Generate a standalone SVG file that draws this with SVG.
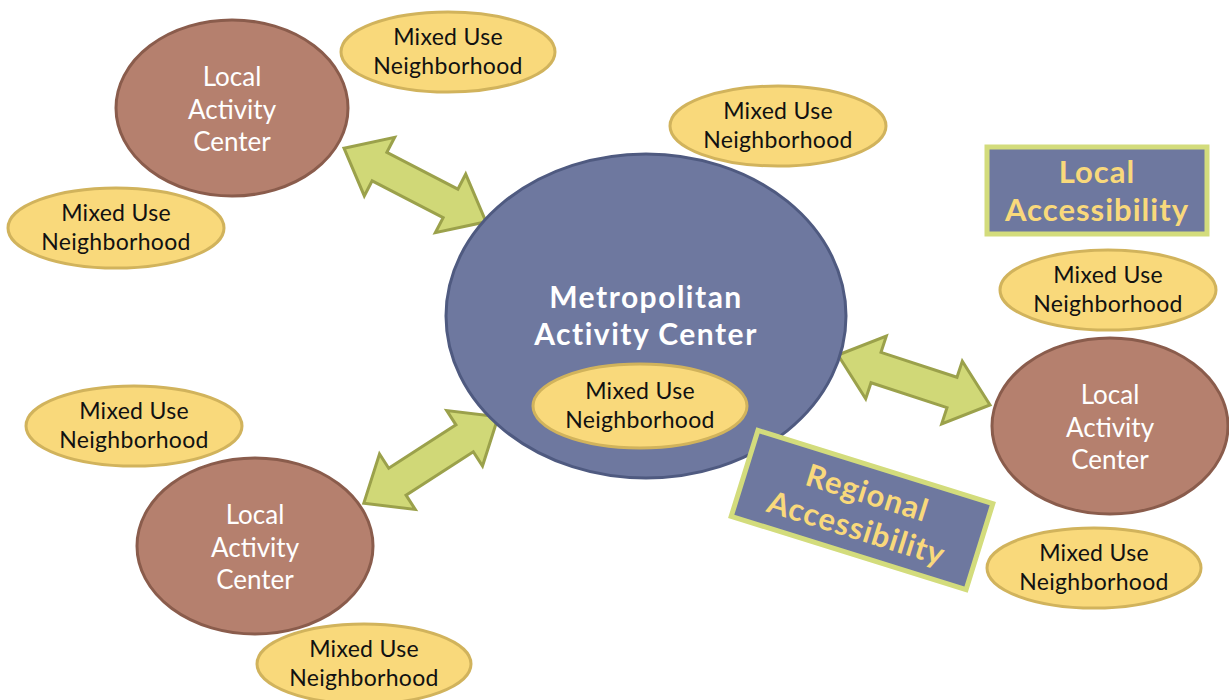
<svg xmlns="http://www.w3.org/2000/svg" width="1229" height="700" viewBox="0 0 1229 700">
  <style>
    .mun { fill: #f9d97b; stroke: #d1b35c; stroke-width: 3; }
    .lac { fill: #b5806e; stroke: #8a5c4c; stroke-width: 3; }
    .metro { fill: #6e789f; stroke: #4f5a80; stroke-width: 3; }
    .box { fill: #6e789f; stroke: #d3dc7c; stroke-width: 5; }
    .arrow { fill: #d0d877; stroke: #9ba14b; stroke-width: 3; stroke-linejoin: miter; }
    text { font-family: Lato, "Open Sans", "Liberation Sans", sans-serif; text-anchor: middle; }
    .t-mun { font-size: 23px; letter-spacing: 0.3px; fill: #111111; }
    .t-lac { font-size: 26px; fill: #ffffff; }
    .t-metro { font-size: 30px; font-weight: bold; letter-spacing: 1.5px; fill: #ffffff; }
    .t-box { font-size: 31px; font-weight: bold; letter-spacing: 1px; fill: #f9d97b; }
  </style>
  <defs>
    <!-- double-headed block arrow, tips at x=-80 and x=80 -->
    <polygon id="dblArrow" class="arrow" points="-80,0 -40,-33 -40,-16 40,-16 40,-33 80,0 40,33 40,16 -40,16 -40,33"/>
  </defs>

  <rect width="1229" height="700" fill="#ffffff"/>

  <!-- connectors -->
  <g id="connectors">
    <use href="#dblArrow" transform="translate(415,185) rotate(27.4)"/>
    <use href="#dblArrow" transform="translate(914,380) rotate(18.2)"/>
    <use href="#dblArrow" transform="translate(431,460) rotate(-32.8)"/>
  </g>

  <!-- metropolitan center -->
  <g id="metro-center">
    <ellipse class="metro" cx="646" cy="316" rx="200" ry="162"/>
    <text class="t-metro" x="646" y="308">Metropolitan</text>
    <text class="t-metro" x="646" y="345">Activity Center</text>
  </g>
  <g id="mun-center">
    <ellipse class="mun" cx="640" cy="406" rx="107" ry="42"/>
    <text class="t-mun" x="640" y="399">Mixed Use</text>
    <text class="t-mun" x="640" y="428">Neighborhood</text>
  </g>

  <!-- local activity centers -->
  <g id="lac-top-left">
    <ellipse class="lac" cx="232" cy="108" rx="116" ry="88"/>
    <text class="t-lac" x="232" y="86">Local</text>
    <text class="t-lac" x="232" y="119">Activity</text>
    <text class="t-lac" x="232" y="151">Center</text>
  </g>
  <g id="lac-right">
    <ellipse class="lac" cx="1110" cy="426" rx="118" ry="88"/>
    <text class="t-lac" x="1110" y="404">Local</text>
    <text class="t-lac" x="1110" y="437">Activity</text>
    <text class="t-lac" x="1110" y="469">Center</text>
  </g>
  <g id="lac-bottom-left">
    <ellipse class="lac" cx="255" cy="546" rx="118" ry="88"/>
    <text class="t-lac" x="255" y="524">Local</text>
    <text class="t-lac" x="255" y="557">Activity</text>
    <text class="t-lac" x="255" y="589">Center</text>
  </g>

  <!-- mixed use neighborhoods -->
  <g id="mun-top">
    <ellipse class="mun" cx="448" cy="52" rx="107" ry="40"/>
    <text class="t-mun" x="448" y="45">Mixed Use</text>
    <text class="t-mun" x="448" y="74">Neighborhood</text>
  </g>
  <g id="mun-left-top">
    <ellipse class="mun" cx="116" cy="228" rx="108" ry="40"/>
    <text class="t-mun" x="116" y="221">Mixed Use</text>
    <text class="t-mun" x="116" y="250">Neighborhood</text>
  </g>
  <g id="mun-top-center">
    <ellipse class="mun" cx="778" cy="126" rx="108" ry="40"/>
    <text class="t-mun" x="778" y="119">Mixed Use</text>
    <text class="t-mun" x="778" y="148">Neighborhood</text>
  </g>
  <g id="mun-right-top">
    <ellipse class="mun" cx="1108" cy="290" rx="108" ry="40"/>
    <text class="t-mun" x="1108" y="283">Mixed Use</text>
    <text class="t-mun" x="1108" y="312">Neighborhood</text>
  </g>
  <g id="mun-right-bottom">
    <ellipse class="mun" cx="1094" cy="568" rx="107" ry="40"/>
    <text class="t-mun" x="1094" y="561">Mixed Use</text>
    <text class="t-mun" x="1094" y="590">Neighborhood</text>
  </g>
  <g id="mun-left-mid">
    <ellipse class="mun" cx="134" cy="426" rx="108" ry="40"/>
    <text class="t-mun" x="134" y="419">Mixed Use</text>
    <text class="t-mun" x="134" y="448">Neighborhood</text>
  </g>
  <g id="mun-bottom">
    <ellipse class="mun" cx="364" cy="664" rx="107" ry="40"/>
    <text class="t-mun" x="364" y="657">Mixed Use</text>
    <text class="t-mun" x="364" y="686">Neighborhood</text>
  </g>

  <!-- labels -->
  <g id="local-accessibility">
    <rect class="box" x="987" y="147" width="220" height="87"/>
    <text class="t-box" x="1097" y="183">Local</text>
    <text class="t-box" x="1097" y="221">Accessibility</text>
  </g>
  <g id="regional-accessibility" transform="translate(862,510) rotate(17.3)">
    <rect class="box" x="-123" y="-45" width="246" height="90"/>
    <text class="t-box" x="0" y="-7">Regional</text>
    <text class="t-box" x="0" y="30">Accessibility</text>
  </g>
</svg>
